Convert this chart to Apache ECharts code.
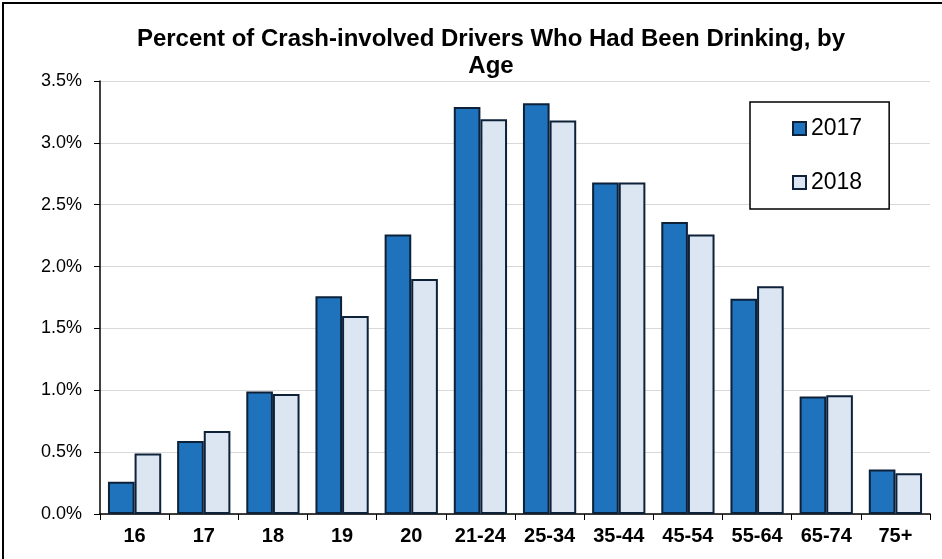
<!DOCTYPE html>
<html>
<head>
<meta charset="utf-8">
<script src="https://cdn.jsdelivr.net/npm/echarts@6/dist/echarts.min.js"></script>
<style>
  html, body { margin: 0; padding: 0; background: #fff; }
  #frame { position: absolute; left: 2px; top: 2px; width: 945px; height: 560px; border: 2px solid #000; box-sizing: border-box; }
  #main { position: absolute; left: 0; top: 0; width: 942px; height: 559px; }
</style>
</head>
<body>
<div id="frame"></div>
<div id="main"></div>
<script>
// age groups on the x axis
let ageGroups = ['16', '17', '18', '19', '20', '21-24', '25-34', '35-44', '45-54', '55-64', '65-74', '75+'];
// percent of crash-involved drivers who had been drinking
let pct2017 = [0.26, 0.59, 0.99, 1.76, 2.26, 3.29, 3.32, 2.68, 2.36, 1.74, 0.95, 0.36];
let pct2018 = [0.49, 0.67, 0.97, 1.60, 1.90, 3.19, 3.18, 2.68, 2.26, 1.84, 0.96, 0.33];

let myChart = echarts.init(document.getElementById('main'));
myChart.setOption({
    animation: false,
    title: {
        text: 'Percent of Crash-involved Drivers Who Had Been Drinking, by\nAge',
        left: 486,
        textAlign: 'center',
        top: 21,
        textStyle: {
            fontFamily: 'Liberation Sans',
            fontWeight: 'bold',
            fontSize: 24,
            lineHeight: 27,
            color: '#000'
        }
    },
    legend: {
        orient: 'vertical',
        left: 750,
        top: 102,
        padding: [15, 27, 15, 42],
        itemGap: 31,
        itemWidth: 13,
        itemHeight: 13,
        icon: 'rect',
        borderColor: '#000',
        borderWidth: 1.5,
        borderRadius: 0,
        backgroundColor: '#fff',
        textStyle: { fontFamily: 'Liberation Sans', fontSize: 23, lineHeight: 23, color: '#000' },
        data: ['2017', '2018']
    },
    grid: {
        left: 100,
        right: 12,
        top: 81,
        bottom: 45
    },
    xAxis: {
        type: 'category',
        data: ageGroups,
        axisLine: { lineStyle: { color: '#000', width: 1.5 } },
        axisTick: { show: true, length: 6, lineStyle: { color: '#000' } },
        axisLabel: {
            margin: 12,
            fontFamily: 'Liberation Sans',
            fontWeight: 'bold',
            fontSize: 20,
            color: '#000'
        }
    },
    yAxis: {
        type: 'value',
        min: 0,
        max: 3.5,
        interval: 0.5,
        axisLine: { show: true, lineStyle: { color: '#000', width: 1.5 } },
        axisTick: { show: true, length: 6, lineStyle: { color: '#000' } },
        splitLine: { lineStyle: { color: '#d9d9d9', width: 1 } },
        axisLabel: {
            margin: 18,
            fontFamily: 'Liberation Sans',
            fontSize: 18,
            color: '#000',
            formatter: function (v) { return v.toFixed(1) + '%'; }
        }
    },
    series: [
        {
            name: '2017',
            type: 'bar',
            data: pct2017,
            barGap: 0,
            barCategoryGap: '23%',
            itemStyle: { color: '#1f72bc', borderColor: '#0d2138', borderWidth: 2 }
        },
        {
            name: '2018',
            type: 'bar',
            data: pct2018,
            itemStyle: { color: '#dce6f2', borderColor: '#0d2138', borderWidth: 2 }
        }
    ]
});
</script>
</body>
</html>
